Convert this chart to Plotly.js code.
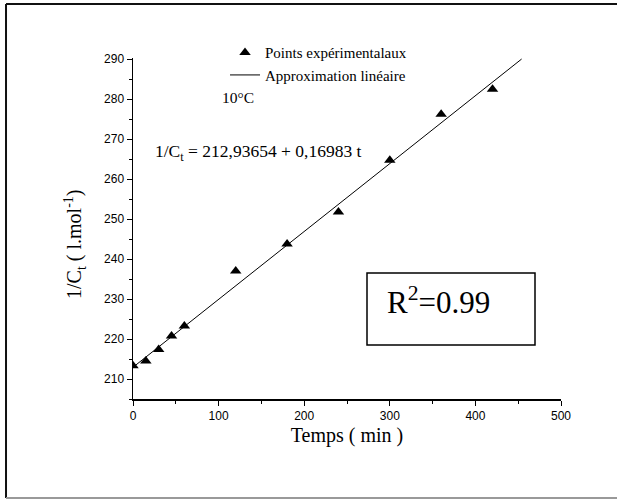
<!DOCTYPE html>
<html>
<head>
<meta charset="utf-8">
<script src="https://cdn.plot.ly/plotly-3.0.1.min.js"></script>
<style>html,body{margin:0;padding:0;background:#fff;}#chart{width:617px;height:500px;}</style>
</head>
<body>
<div id="chart"></div>
<script>
// Data
const timeMin = [0, 15, 30, 45, 60, 120, 180, 240, 300, 360, 420];
const invC = [213.3, 214.5, 217.4, 220.75, 223.25, 237.0, 243.8, 251.75, 264.75, 276.2, 282.5];
const fitT = [0, 454];
const fitY = [212.94, 290.04];
const xTickVals = [0, 100, 200, 300, 400, 500];
const yTickVals = [210, 220, 230, 240, 250, 260, 270, 280, 290];

const serif = "Liberation Serif, Times New Roman, serif";
const sans = "Liberation Sans, Arial, sans-serif";

const traces = [
  {
    x: timeMin, y: invC, type: 'scatter', mode: 'markers',
    name: 'Points expérimentalaux',
    marker: {symbol: 'triangle-up', size: 10, color: '#000'}
  },
  {
    x: fitT, y: fitY, type: 'scatter', mode: 'lines',
    name: 'Approximation linéaire',
    line: {color: '#000', width: 1}
  }
];

const fx0 = -0.2967, fx1 = 1.2, fy0 = -0.2903, fy1 = 1.158;

const layout = {
  width: 617, height: 500,
  margin: {l: 133, r: 56, t: 58, b: 101},
  paper_bgcolor: '#fff', plot_bgcolor: '#fff',
  showlegend: true,
  legend: {
    x: 0.215, y: 1.064, xanchor: 'left', yanchor: 'top',
    bgcolor: 'rgba(0,0,0,0)', borderwidth: 0,
    font: {family: serif, size: 15, color: '#000'},
    tracegroupgap: 0
  },
  xaxis: {
    range: [0, 500], tickvals: xTickVals, ticks: 'outside', ticklen: 5, tickwidth: 1,
    tickcolor: '#000', showline: true, linecolor: '#000', linewidth: 1.5,
    showgrid: false, zeroline: false,
    tickfont: {family: sans, size: 12, color: '#000'},
    minor: {dtick: 50, ticks: 'outside', ticklen: 3, tickcolor: '#000', showgrid: false},
    title: {text: 'Temps ( min )', font: {family: serif, size: 20, color: '#000'}, standoff: 6}
  },
  yaxis: {
    range: [205, 290.3], tickvals: yTickVals, ticks: 'outside', ticklen: 5, tickwidth: 1,
    tickcolor: '#000', showline: true, linecolor: '#000', linewidth: 1.5,
    showgrid: false, zeroline: false,
    tickfont: {family: sans, size: 12, color: '#000'},
    minor: {dtick: 5, ticks: 'outside', ticklen: 3, tickcolor: '#000', showgrid: false}
  },
  shapes: [
    {type: 'line', xref: 'paper', yref: 'paper', x0: fx0, x1: fx0, y0: fy0, y1: fy1, line: {color: '#111', width: 2}},
    {type: 'line', xref: 'paper', yref: 'paper', x0: fx0, x1: fx1, y0: fy1, y1: fy1, line: {color: '#111', width: 2}},
    {type: 'line', xref: 'paper', yref: 'paper', x0: fx0, x1: fx1, y0: fy0, y1: fy0, line: {color: '#999', width: 2}},
    {type: 'rect', xref: 'paper', yref: 'paper',
     x0: (367-133)/428, x1: (535-133)/428, y0: (399-345)/341, y1: (399-273)/341,
     line: {color: '#000', width: 1.5}}
  ],
  annotations: [
    {xref: 'paper', yref: 'paper', x: (75-133)/428, y: (399-245)/341, xanchor: 'center', yanchor: 'middle',
     textangle: -90, text: '1/C<sub>t</sub> ( l.mol<sup>-1</sup>)', showarrow: false,
     font: {family: serif, size: 20, color: '#000'}},
    {xref: 'paper', yref: 'paper', x: (153-133)/428, y: (399-152)/341, xanchor: 'left', yanchor: 'middle',
     text: '1/C<sub>t</sub> = 212,93654 + 0,16983 t', showarrow: false,
     font: {family: serif, size: 17.5, color: '#000'}},
    {xref: 'paper', yref: 'paper', x: (220-133)/428, y: (399-97)/341, xanchor: 'left', yanchor: 'middle',
     text: '10°C', showarrow: false, font: {family: serif, size: 15.5, color: '#000'}},
    {xref: 'paper', yref: 'paper', x: (385-133)/428, y: (399-300)/341, xanchor: 'left', yanchor: 'middle',
     text: 'R<sup>2</sup>=0.99', showarrow: false, font: {family: serif, size: 31, color: '#000'}}
  ]
};

Plotly.newPlot('chart', traces, layout, {displayModeBar: false, staticPlot: true});
</script>
</body>
</html>
